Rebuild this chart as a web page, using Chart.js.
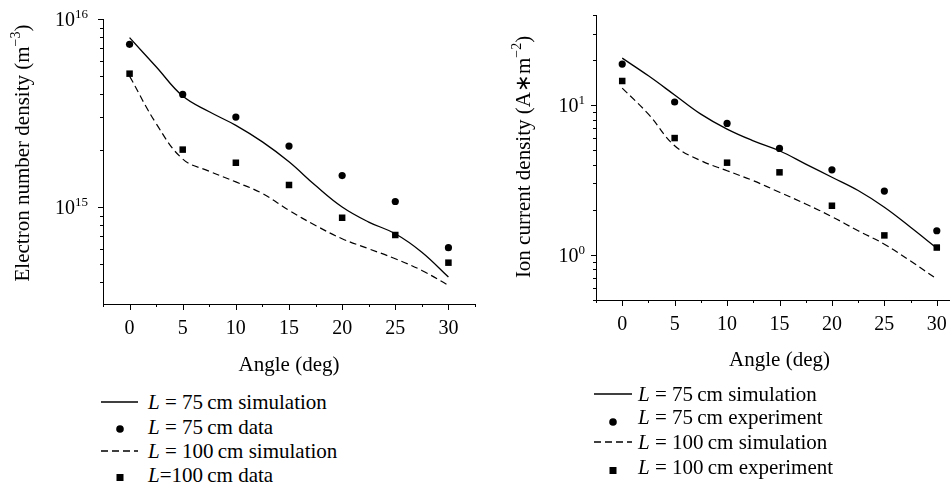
<!DOCTYPE html>
<html>
<head>
<meta charset="utf-8">
<script src="https://cdn.jsdelivr.net/npm/chart.js@4.4.0/dist/chart.umd.min.js"></script>
<style>
  html, body { margin: 0; padding: 0; background: #fff; width: 950px; height: 487px; overflow: hidden; }
  .box { position: absolute; top: 0; }
  .legend { position: absolute; font-family: "Liberation Serif", serif; font-size: 21px; color: #000; }
  .legend .row { position: absolute; left: 0; height: 24px; line-height: 24px; white-space: nowrap; }
  .legend .row svg { position: absolute; top: 0; }
  .legend .row span { position: absolute; top: 0; }
  .legend i { font-style: italic; }
</style>
</head>
<body>

<div class="box" style="left:0;width:480px;height:385px;"><canvas id="densChart" width="480" height="385"></canvas></div>
<div class="box" style="left:480px;width:500px;height:385px;"><canvas id="ionChart" width="500" height="385"></canvas></div>

<!-- leyenda izquierda -->
<div class="legend" style="left:0;top:0;">
  <div class="row" style="top:390px;">
    <svg width="40" height="24" style="left:101px"><line x1="0" y1="12" x2="37" y2="12" stroke="#000" stroke-width="1.3"/></svg>
    <span style="left:148px"><i>L</i> = 75&#8201;cm simulation</span>
  </div>
  <div class="row" style="top:415px;">
    <svg width="40" height="24" style="left:101px"><circle cx="19" cy="14" r="3.8" fill="#000"/></svg>
    <span style="left:148px"><i>L</i> = 75&#8201;cm data</span>
  </div>
  <div class="row" style="top:439px;">
    <svg width="40" height="24" style="left:101px"><line x1="0" y1="12" x2="37" y2="12" stroke="#000" stroke-width="1.3" stroke-dasharray="7,4"/></svg>
    <span style="left:148px"><i>L</i> = 100&#8201;cm simulation</span>
  </div>
  <div class="row" style="top:463px;">
    <svg width="40" height="24" style="left:101px"><rect x="15.5" y="11" width="7" height="7" fill="#000"/></svg>
    <span style="left:148px"><i>L</i>=100&#8201;cm data</span>
  </div>
</div>

<!-- leyenda derecha -->
<div class="legend" style="left:0;top:0;">
  <div class="row" style="top:382px;">
    <svg width="40" height="24" style="left:594px"><line x1="0" y1="12" x2="38" y2="12" stroke="#000" stroke-width="1.3"/></svg>
    <span style="left:638px"><i>L</i> = 75&#8201;cm simulation</span>
  </div>
  <div class="row" style="top:405px;">
    <svg width="40" height="24" style="left:594px"><circle cx="19" cy="17" r="3.8" fill="#000"/></svg>
    <span style="left:638px"><i>L</i> = 75&#8201;cm experiment</span>
  </div>
  <div class="row" style="top:430px;">
    <svg width="40" height="24" style="left:594px"><line x1="0" y1="12" x2="38" y2="12" stroke="#000" stroke-width="1.3" stroke-dasharray="7,4"/></svg>
    <span style="left:638px"><i>L</i> = 100&#8201;cm simulation</span>
  </div>
  <div class="row" style="top:455px;">
    <svg width="40" height="24" style="left:594px"><rect x="15.5" y="12" width="7" height="7" fill="#000"/></svg>
    <span style="left:638px"><i>L</i> = 100&#8201;cm experiment</span>
  </div>
</div>

<script>
// === DATOS ===
const dataAngles = [0, 5, 10, 15, 20, 25, 30];
const simAngles = [0, 2.5, 5, 7.5, 10, 12.5, 15, 17.5, 20, 22.5, 25, 27.5, 30];

// densidad electrónica (m^-3)
const dens75Sim = [7.96e15, 5.57e15, 3.89e15, 3.21e15, 2.72e15, 2.22e15, 1.74e15, 1.30e15, 1.00e15, 8.32e14, 7.21e14, 5.75e14, 4.24e14];
const dens75Data = [7.33e15, 3.97e15, 3.01e15, 2.11e15, 1.47e15, 1.07e15, 6.08e14];
const dens100Sim = [4.97e15, 2.78e15, 1.80e15, 1.55e15, 1.36e15, 1.18e15, 9.6e14, 7.98e14, 6.78e14, 6.0e14, 5.31e14, 4.6e14, 3.83e14];
const dens100Data = [5.12e15, 2.02e15, 1.72e15, 1.31e15, 8.77e14, 7.10e14, 5.06e14];

// densidad de corriente iónica (A*m^-2)
const ion75Sim = [20.6, 15.7, 11.7, 8.71, 6.92, 5.78, 4.96, 4.04, 3.30, 2.69, 2.08, 1.53, 1.11];
const ion75Exp = [18.8, 10.5, 7.55, 5.14, 3.70, 2.67, 1.45];
const ion100Sim = [13.0, 8.71, 5.36, 4.26, 3.65, 3.13, 2.62, 2.19, 1.80, 1.45, 1.18, 0.91, 0.69];
const ion100Exp = [14.5, 6.03, 4.13, 3.56, 2.13, 1.35, 1.12];

// ticks
const xMajor = [0, 5, 10, 15, 20, 25, 30];
const xMinor = [-2.5, 2.5, 7.5, 12.5, 17.5, 22.5, 27.5, 32.5];
const densMajor = [1e15, 1e16];
const densMajorLabels = [['10', '15'], ['10', '16']];
const densMinor = [4e14, 5e14, 6e14, 7e14, 8e14, 9e14, 2e15, 3e15, 4e15, 5e15, 6e15, 7e15, 8e15, 9e15];
const ionMajor = [1, 10];
const ionMajorLabels = [['10', '0'], ['10', '1']];
const ionMinor = [0.5, 0.6, 0.7, 0.8, 0.9, 2, 3, 4, 5, 6, 7, 8, 9, 20, 30, 40];

const FONT = '"Liberation Serif", "Times New Roman", serif';

function pts(xs, ys) {
    return xs.map((x, i) => ({ x: x, y: ys[i] }));
}

// texto con partes en superíndice
function richWidth(ctx, parts, size) {
    let w = 0;
    parts.forEach(p => {
        ctx.font = (p.sup ? Math.round(size * 0.65) : size) + 'px ' + FONT;
        w += ctx.measureText(p.t).width;
    });
    return w;
}
function drawRich(ctx, parts, size, x, y) {
    let cx = x;
    ctx.textBaseline = 'alphabetic';
    ctx.textAlign = 'left';
    parts.forEach(p => {
        ctx.font = (p.sup ? Math.round(size * 0.65) : size) + 'px ' + FONT;
        ctx.fillText(p.t, cx, p.sup ? y - size * 0.42 : y);
        cx += ctx.measureText(p.t).width;
    });
}

// plugin: ticks, etiquetas y títulos de ejes
const axesPlugin = {
    id: 'axesDeco',
    afterDraw(chart, args, opts) {
        const ctx = chart.ctx;
        const xs = chart.scales.x, ys = chart.scales.y;
        const area = chart.chartArea;
        ctx.save();
        ctx.strokeStyle = '#000';
        ctx.fillStyle = '#000';
        ctx.lineWidth = 1;

        // ticks eje X
        ctx.beginPath();
        xMajor.forEach(v => {
            const px = Math.round(xs.getPixelForValue(v)) + 0.5;
            ctx.moveTo(px, area.bottom); ctx.lineTo(px, area.bottom + 6);
        });
        xMinor.forEach(v => {
            const px = Math.round(xs.getPixelForValue(v)) + 0.5;
            ctx.moveTo(px, area.bottom); ctx.lineTo(px, area.bottom + 3);
        });
        // ticks eje Y
        opts.yMajor.forEach(v => {
            const py = Math.round(ys.getPixelForValue(v)) + 0.5;
            ctx.moveTo(area.left, py); ctx.lineTo(area.left - 5, py);
        });
        opts.yMinor.forEach(v => {
            const py = Math.round(ys.getPixelForValue(v)) + 0.5;
            ctx.moveTo(area.left, py); ctx.lineTo(area.left - 3, py);
        });
        ctx.stroke();

        // etiquetas X
        ctx.font = '20px ' + FONT;
        ctx.textAlign = 'center';
        ctx.textBaseline = 'middle';
        xMajor.forEach(v => {
            ctx.fillText(String(v), xs.getPixelForValue(v), area.bottom + opts.xLabelOffset);
        });

        // etiquetas Y (potencias de 10)
        opts.yMajor.forEach((v, i) => {
            const parts = [{ t: opts.yLabels[i][0] }, { t: opts.yLabels[i][1], sup: true }];
            const w = richWidth(ctx, parts, 20);
            const py = ys.getPixelForValue(v);
            drawRich(ctx, parts, 20, area.left - opts.yLabelGap - w, py + 7);
        });

        // título X
        ctx.font = '21px ' + FONT;
        ctx.textAlign = 'center';
        ctx.textBaseline = 'middle';
        ctx.fillText('Angle (deg)', (area.left + area.right) / 2, area.bottom + opts.xTitleOffset);

        // título Y (rotado)
        const w = richWidth(ctx, opts.yTitle, 21);
        ctx.translate(opts.yTitleX, opts.yTitleY);
        ctx.rotate(-Math.PI / 2);
        drawRich(ctx, opts.yTitle, 21, -w / 2, 7);
        ctx.restore();
    }
};

function makeChart(id, cfg) {
    return new Chart(document.getElementById(id), {
        type: 'line',
        data: {
            datasets: [
                {
                    data: pts(simAngles, cfg.sim75),
                    borderColor: '#000', borderWidth: 1.3, pointRadius: 0,
                    tension: 0.4, fill: false
                },
                {
                    data: pts(simAngles, cfg.sim100),
                    borderColor: '#000', borderWidth: 1.2, borderDash: [7, 4], pointRadius: 0,
                    tension: 0.4, fill: false
                },
                {
                    data: pts(dataAngles, cfg.dat75),
                    showLine: false, pointStyle: 'circle', pointRadius: 3.6,
                    pointBackgroundColor: '#000', pointBorderWidth: 0
                },
                {
                    data: pts(dataAngles, cfg.dat100),
                    showLine: false, pointStyle: 'rect', pointRadius: 4.6,
                    pointBackgroundColor: '#000', pointBorderWidth: 0
                }
            ]
        },
        options: {
            responsive: false,
            animation: false,
            devicePixelRatio: 1,
            layout: { padding: cfg.padding },
            plugins: {
                legend: { display: false },
                tooltip: { enabled: false },
                axesDeco: cfg.deco
            },
            scales: {
                x: {
                    type: 'linear', min: -2.5, max: 32.5,
                    grid: { display: false },
                    border: { display: true, color: '#000', width: 1 },
                    ticks: { display: false },
                    afterFit: s => { s.height = cfg.xHeight; }
                },
                y: {
                    type: 'logarithmic', min: cfg.yMin, max: cfg.yMax,
                    grid: { display: false },
                    border: { display: true, color: '#000', width: 1 },
                    ticks: { display: false },
                    afterFit: s => { s.width = cfg.yWidth; }
                }
            }
        },
        plugins: [axesPlugin]
    });
}

makeChart('densChart', {
    sim75: dens75Sim, sim100: dens100Sim, dat75: dens75Data, dat100: dens100Data,
    yMin: 3.05e14, yMax: 1e16,
    padding: { top: 19, right: 5, left: 0, bottom: 0 },
    xHeight: 81, yWidth: 103,
    deco: {
        yMajor: densMajor, yMinor: densMinor, yLabels: densMajorLabels,
        yLabelGap: 15, xLabelOffset: 25, xTitleOffset: 61,
        yTitleX: 22, yTitleY: 153,
        yTitle: [{ t: 'Electron number density (m' }, { t: '\u22123', sup: true }, { t: ')' }]
    }
});

makeChart('ionChart', {
    sim75: ion75Sim, sim100: ion100Sim, dat75: ion75Exp, dat100: ion100Exp,
    yMin: 0.5, yMax: 40,
    padding: { top: 15, right: 17, left: 0, bottom: 0 },
    xHeight: 85, yWidth: 116,
    deco: {
        yMajor: ionMajor, yMinor: ionMinor, yLabels: ionMajorLabels,
        yLabelGap: 11, xLabelOffset: 25, xTitleOffset: 60,
        yTitleX: 43, yTitleY: 157,
        yTitle: [{ t: 'Ion current density (A\u2217m' }, { t: '\u22122', sup: true }, { t: ')' }]
    }
});
</script>
</body>
</html>
